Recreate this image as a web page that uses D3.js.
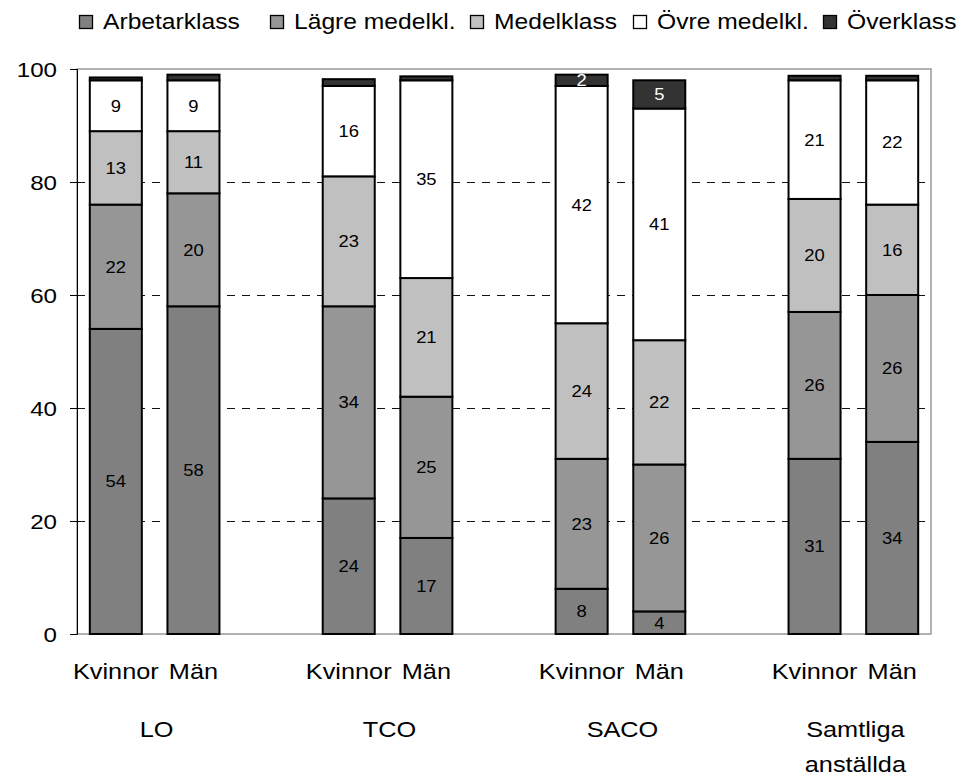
<!DOCTYPE html>
<html>
<head>
<meta charset="utf-8">
<script src="https://cdn.jsdelivr.net/npm/d3@7"></script>
<style>
  html, body { margin: 0; padding: 0; background: #fff; }
  text { font-family: "Liberation Sans", Arial, sans-serif; fill: #000; }
</style>
</head>
<body>
<svg id="chart" width="967" height="776"></svg>
<script>
// ---- data ----
const groups = ["LO", "TCO", "SACO", "Samtliga anställda"];
const genders = ["Kvinnor", "Män"];
const seriesNames = ["Arbetarklass", "Lägre medelkl.", "Medelklass", "Övre medelkl.", "Överklass"];
// order per bar: LO K, LO M, TCO K, TCO M, SACO K, SACO M, Samtliga K, Samtliga M
const arbetarklass = [54, 58, 24, 17, 8, 4, 31, 34];
const lagreMedelkl = [22, 20, 34, 25, 23, 26, 26, 26];
const medelklass   = [13, 11, 23, 21, 24, 22, 20, 16];
const ovreMedelkl  = [9, 9, 16, 35, 42, 41, 21, 22];
const overklass    = [0.5, 1, 1.2, 0.7, 2, 5, 0.8, 0.8];
const yTicks = [0, 20, 40, 60, 80, 100];

// ---- styles ----
const colors = ["#808080", "#969696", "#c0c0c0", "#ffffff", "#333333"];
const labelColors = ["#000", "#000", "#000", "#000", "#fff"];
const SX = 1.15; // horizontal text stretch
const legendMarkerX = [79, 270, 470, 633, 823];

const svg = d3.select("#chart");
const plot = { left: 77, right: 931, top: 69, bottom: 634 };

// build rows
const seriesArrays = [arbetarklass, lagreMedelkl, medelklass, ovreMedelkl, overklass];
const rows = [];
const domain = [];
groups.forEach((g, gi) => {
  genders.forEach((s, si) => {
    const idx = gi * 2 + si;
    const row = { key: gi + "-" + si, group: g, gender: s };
    seriesNames.forEach((n, k) => row[n] = seriesArrays[k][idx]);
    rows.push(row);
    domain.push(row.key);
  });
  if (gi < groups.length - 1) domain.push("gap" + gi);
});

const x = d3.scaleBand().domain(domain).range([plot.left, plot.right])
  .paddingInner(0.33).paddingOuter(0.165);
const y = d3.scaleLinear().domain([0, 100]).range([plot.bottom, plot.top]);

function stretchedText(sel, px, py, str, size, anchor, color, sx) {
  return sel.append("text")
    .attr("transform", `translate(${px},${py}) scale(${sx || SX},1)`)
    .attr("font-size", size)
    .attr("text-anchor", anchor)
    .style("fill", color || "#000")
    .text(str);
}

// gridlines
svg.append("g").selectAll("line")
  .data(yTicks.filter(t => t > 0 && t < 100))
  .join("line")
  .attr("x1", plot.left).attr("x2", plot.right)
  .attr("y1", d => Math.round(y(d)) + 0.5).attr("y2", d => Math.round(y(d)) + 0.5)
  .attr("stroke", "#111").attr("stroke-width", 1)
  .attr("stroke-dasharray", "8,7");

// plot frame (gray)
svg.append("rect")
  .attr("x", plot.left).attr("y", plot.top)
  .attr("width", plot.right - plot.left).attr("height", plot.bottom - plot.top)
  .attr("fill", "none").attr("stroke", "#999").attr("stroke-width", 1.5);

// stacked bars
const stack = d3.stack().keys(seriesNames);
const stacked = stack(rows);

const gBars = svg.append("g");
stacked.forEach((layer, k) => {
  gBars.append("g").selectAll("rect")
    .data(layer)
    .join("rect")
    .attr("x", d => x(d.data.key))
    .attr("width", x.bandwidth())
    .attr("y", d => y(d[1]))
    .attr("height", d => y(d[0]) - y(d[1]))
    .attr("fill", colors[k])
    .attr("stroke", "#000")
    .attr("stroke-width", 2);
});

// value labels
const gLab = svg.append("g");
stacked.forEach((layer, k) => {
  layer.forEach(d => {
    const v = d[1] - d[0];
    if (v < 2) return;
    const cx = x(d.data.key) + x.bandwidth() / 2;
    const cy = (y(d[0]) + y(d[1])) / 2;
    stretchedText(gLab, cx, cy + 6, d3.format(".0f")(v), 16, "middle", labelColors[k]);
  });
});

// y axis
const yAxis = d3.axisLeft(y).tickValues(yTicks).tickSize(7).tickPadding(13).tickFormat(d3.format("d"));
const gY = svg.append("g").attr("transform", `translate(${plot.left},0)`).call(yAxis);
gY.select(".domain").attr("stroke", "#000").attr("stroke-width", 1);
gY.selectAll(".tick line").attr("stroke", "#000").attr("stroke-width", 1);
gY.selectAll(".tick text")
  .attr("font-size", 21)
  .attr("font-family", "Liberation Sans, Arial, sans-serif")
  .attr("x", -20 / SX)
  .attr("dy", "0.36em")
  .attr("transform", `scale(${SX},1)`);

// category labels
const gCat = svg.append("g");
rows.forEach(r => {
  const cx = x(r.key) + x.bandwidth() / 2;
  stretchedText(gCat, cx, 679, r.gender, 22, "middle");
});
groups.forEach((g, gi) => {
  const k1 = gi + "-0", k2 = gi + "-1";
  const cx = (x(k1) + x(k2) + x.bandwidth()) / 2;
  const lines = g.split(" ");
  lines.forEach((ln, li) => stretchedText(gCat, cx + 2, 737 + li * 35, ln, 22, "middle"));
});

// legend
const gLeg = svg.append("g");
seriesNames.forEach((n, k) => {
  const g = gLeg.append("g").attr("transform", `translate(${legendMarkerX[k]},0)`);
  g.append("rect").attr("x", 0.5).attr("y", 15.5).attr("width", 13).attr("height", 13)
    .attr("fill", colors[k]).attr("stroke", "#000").attr("stroke-width", 1.3);
  stretchedText(g, 24, 29, n, 22, "start", "#000", 1.12);
});
</script>
</body>
</html>
